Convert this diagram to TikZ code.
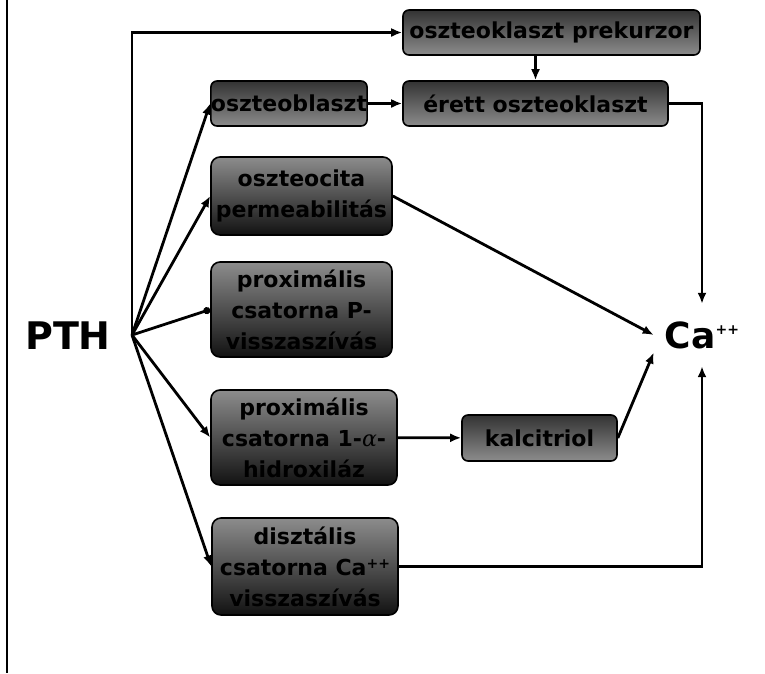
\documentclass[tikz,border=0pt]{standalone}
\usepackage{fontspec}
\setmainfont{DejaVu Sans}
\newfontfamily\greekfont{DejaVu Serif}
\usetikzlibrary{arrows.meta}
\newcommand{\boxfont}{\fontsize{22}{31}\selectfont\bfseries}
\newcommand{\plusplus}[1]{\raisebox{#1}{\fontsize{14}{14}\selectfont ++}}
\tikzset{
  slimbox/.style={draw, line width=1.6pt, rounded corners=6pt, top color=black!80, bottom color=black!45, inner sep=0pt, font=\boxfont},
  tallbox/.style={draw, line width=1.6pt, rounded corners=9pt, top color=black!45, bottom color=black!93, inner sep=0pt, align=center, font=\boxfont},
  link/.style={line width=2.8pt, -{Latex[length=11pt,width=9pt]}},
  plainline/.style={line width=2.8pt}
}
\begin{document}
\begin{tikzpicture}[x=1pt,y=-1pt]
    \useasboundingbox (0,0) rectangle (765,673);
    \draw[plainline] (7,0) -- (7,673);
    \node[font=\fontsize{38}{40}\selectfont\bfseries] (pth) at (68,336) {PTH};
    \coordinate (fan) at (132,335);
    \node[slimbox, minimum width=297pt, minimum height=45pt] (prek) at (551.5,32.5) {oszteoklaszt prekurzor};
    \node[slimbox, minimum width=265pt, minimum height=45pt] (eret) at (535.5,103.5) {érett oszteoklaszt};
    \node[slimbox, minimum width=156pt, minimum height=45pt] (oblast) at (289,103.5) {oszteoblaszt};
    \node[tallbox, minimum width=181pt, minimum height=78pt] (ocita) at (301.5,196) {oszteocita\\permeabilitás};
    \node[tallbox, minimum width=181pt, minimum height=95pt] (proxp) at (301.5,309.5) {proximális\\csatorna P-\\visszaszívás};
    \node[tallbox, minimum width=186pt, minimum height=95pt] (proxa) at (304,437.5) {proximális\\csatorna 1-{\greekfont\mdseries\itshape α}-\\hidroxiláz};
    \node[slimbox, minimum width=155pt, minimum height=46pt] (kalc) at (539.5,438) {kalcitriol};
    \node[tallbox, minimum width=186pt, minimum height=97pt] (diszt) at (305,566.5) {disztális\\csatorna Ca\plusplus{7pt}\\visszaszívás};
    \node[font=\fontsize{36}{40}\selectfont\bfseries, inner xsep=11pt, inner ysep=0pt, minimum height=62pt] (ca) at (702,335) {Ca\plusplus{14pt}};
    \draw[link] (fan) |- (prek.west);
    \draw[link] (fan) -- (oblast.west);
    \draw[link] (fan) -- (ocita.west);
    \draw[plainline, -{Circle[length=7pt]}] (fan) -- (proxp.west);
    \draw[link] (fan) -- (proxa.west);
    \draw[link] (fan) -- (diszt.west);
    \draw[link] (oblast) -- (eret);
    \draw[link] (eret.north |- prek.south) -- (eret.north);
    \draw[link] (eret.east) -| (ca.north);
    \draw[link] (ocita.east) -- (ca.west);
    \draw[link] (proxa) -- (kalc);
    \draw[link] (kalc.east) -- (ca.200);
    \draw[link] (diszt.east) -| (ca.south);
  \end{tikzpicture}
\end{document}
